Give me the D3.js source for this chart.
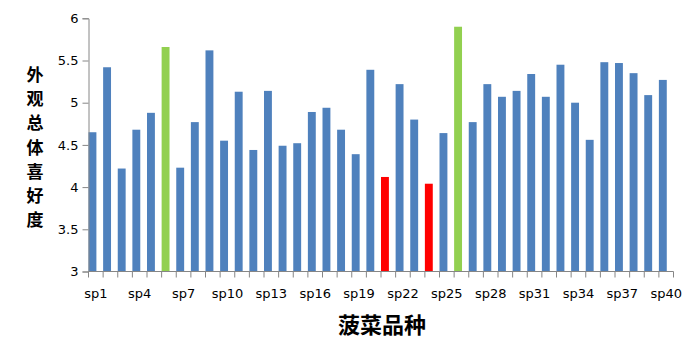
<!DOCTYPE html>
<html>
<head>
<meta charset="utf-8">
<script src="https://cdn.jsdelivr.net/npm/d3@7"></script>
<style>
  body { margin: 0; background: #fff; }
  svg text { font-family: "DejaVu Sans", sans-serif; }
  .cjk { font-family: "Noto Sans CJK SC", sans-serif; font-weight: bold; fill: #000; }
</style>
</head>
<body>
<svg id="chart" width="692" height="360"></svg>
<script>
// data
var categories = d3.range(1, 41).map(function(i){ return "sp" + i; });
var values = [4.65, 5.42, 4.22, 4.68, 4.88, 5.66, 4.23, 4.77, 5.62, 4.55,
              5.13, 4.44, 5.14, 4.49, 4.52, 4.89, 4.94, 4.68, 4.39, 5.39,
              4.12, 5.22, 4.80, 4.04, 4.64, 5.90, 4.77, 5.22, 5.07, 5.14,
              5.34, 5.07, 5.45, 5.00, 4.56, 5.48, 5.47, 5.35, 5.09, 5.27];
var greenBars = ["sp6", "sp26"];
var redBars = ["sp21", "sp24"];
var yTicks = [3, 3.5, 4, 4.5, 5, 5.5, 6];
var xTickLabels = categories.filter(function(d, i){ return i % 3 === 0; });
var yTitle = "外观总体喜好度";
var xTitle = "菠菜品种";

// plot area (don't call it "top", that's window.top)
var plotLeft = 88.5, plotRight = 673.5, plotTop = 18.3, plotBottom = 271.5;
var svg = d3.select("#chart");

var x = d3.scaleBand().domain(categories).range([plotLeft, plotRight]).padding(0);
var y = d3.scaleLinear().domain([3, 6]).range([plotBottom, plotTop]);

function barColor(d) {
  if (greenBars.indexOf(d) >= 0) return "#92D050";
  if (redBars.indexOf(d) >= 0) return "#FF0000";
  return "#4F81BD";
}

// bars
svg.selectAll("rect.bar")
  .data(values)
  .enter()
  .append("rect")
  .attr("class", "bar")
  .attr("x", function(d, i){ return x(categories[i]); })
  .attr("y", function(d){ return y(d); })
  .attr("width", x.bandwidth() * 0.54)
  .attr("height", function(d){ return plotBottom - y(d); })
  .attr("fill", function(d, i){ return barColor(categories[i]); });

// y axis
var yAxis = svg.append("g")
  .attr("transform", "translate(" + plotLeft + ",0)")
  .call(d3.axisLeft(y).tickValues(yTicks).tickSize(6).tickPadding(4)
    .tickFormat(function(d){ return d; }));
yAxis.select(".domain").attr("stroke", "#868686");
yAxis.selectAll(".tick line").attr("stroke", "#868686");
yAxis.selectAll(".tick text").attr("font-size", 13).attr("fill", "#000")
  .attr("font-family", "DejaVu Sans, sans-serif");

// x axis: tick marks at band boundaries, labels every third category
var xAxis = svg.append("g")
  .attr("transform", "translate(0," + plotBottom + ")");
xAxis.append("line")
  .attr("x1", plotLeft).attr("x2", plotRight)
  .attr("stroke", "#868686");
xAxis.selectAll("line.tk")
  .data(categories.concat(["end"]))
  .enter()
  .append("line")
  .attr("class", "tk")
  .attr("x1", function(d, i){ return i < categories.length ? x(d) : plotRight; })
  .attr("x2", function(d, i){ return i < categories.length ? x(d) : plotRight; })
  .attr("y1", 0).attr("y2", 6)
  .attr("stroke", "#868686");
xAxis.selectAll("text")
  .data(xTickLabels)
  .enter()
  .append("text")
  .attr("x", function(d){ return x(d) + x.bandwidth() / 2; })
  .attr("y", 26)
  .attr("text-anchor", "middle")
  .attr("font-size", 13)
  .attr("fill", "#000")
  .text(function(d){ return d; });

// titles - y title is stacked one char per line
svg.append("g").selectAll("text")
  .data(yTitle.split(""))
  .enter()
  .append("text")
  .attr("class", "cjk")
  .attr("x", 35)
  .attr("y", function(d, i){ return 81 + i * 24.2; })
  .attr("text-anchor", "middle")
  .attr("font-size", 17)
  .text(function(d){ return d; });

svg.append("text")
  .attr("class", "cjk")
  .attr("x", 382)
  .attr("y", 333)
  .attr("text-anchor", "middle")
  .attr("font-size", 22)
  .text(xTitle);
</script>
</body>
</html>
